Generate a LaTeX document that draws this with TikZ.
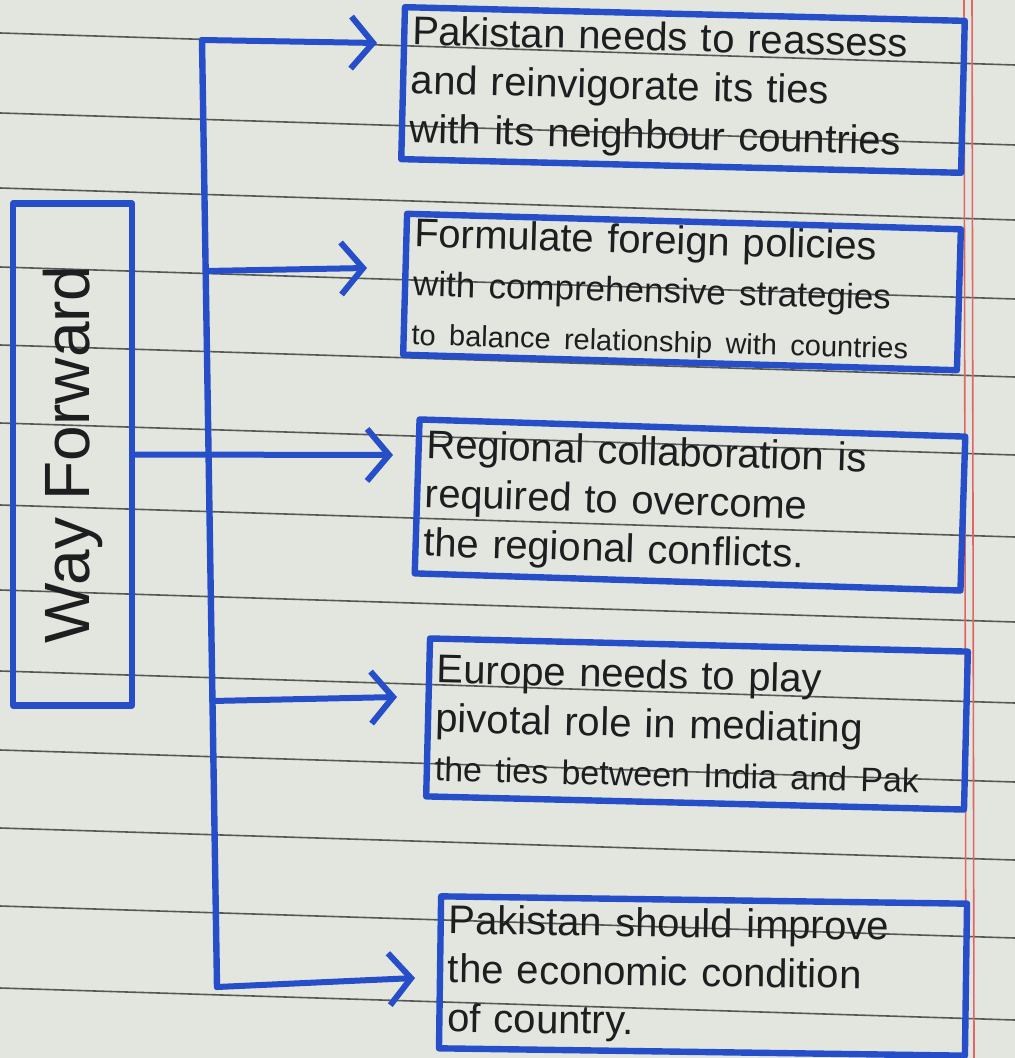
\documentclass[tikz,border=0pt]{standalone}
\usepackage{fontspec}
\setmainfont{Liberation Sans}
\usepackage{graphicx}
\usetikzlibrary{arrows.meta}
\definecolor{paper}{RGB}{227,230,223}
\definecolor{pen}{RGB}{38,78,200}
\definecolor{rulegrey}{RGB}{85,88,85}
\definecolor{marginred}{RGB}{226,100,100}
\definecolor{ink}{RGB}{30,30,32}
\begin{document}
\begin{tikzpicture}[x=0.5pt,y=-0.5pt,
  penline/.style={draw=pen,line width=3.2pt,line cap=round,line join=round},
  arr/.style={draw=pen,line width=3pt,line cap=round,-{Straight Barb[length=11pt,width=26pt]}},
  notebox/.style={penline,rectangle,inner xsep=4pt,inner ysep=2pt,text=ink,align=left,
    font=\fontsize{20}{24.5}\selectfont},
  ruled/.style={draw=rulegrey,line width=0.8pt},
  margin/.style={draw=marginred,line width=0.8pt},
]
\useasboundingbox[fill=paper] (0,0) rectangle (1015,1058);
% ruled lines of the paper
\foreach \y in {33,113,188,267,345,423,505,590,671,750,828,906,988}
  \draw[ruled] (0,\y) -- (1015,\y+32);
% red margin
\draw[margin] (964,0) -- (966,1058);
\draw[margin] (972,0) -- (974,1058);

% left box
\node[penline,rectangle,minimum width=59.5pt,minimum height=251pt,inner sep=0pt,text=ink,
  font=\fontsize{32}{34}\selectfont] (way) at (72.5,454.5) {\rotatebox{90}{Way Forward}};

% right boxes
\node[notebox,text width=272pt,minimum height=76pt,rotate=-1.4] (b1) at (683,90)
  {Pakistan needs to reassess\\and reinvigorate its ties\\with its neighbour countries};
\node[notebox,text width=269pt,minimum height=70pt,rotate=-1.6] (b2) at (682,292)
  {Formulate foreign policies\\\mbox{\fontsize{17.5}{21}\selectfont with comprehensive strategies}\\\mbox{\fontsize{14.5}{18}\selectfont to balance relationship with countries}};
\node[notebox,text width=265pt,minimum height=77pt,rotate=-1.8] (b3) at (690,505)
  {Regional collaboration is\\required to overcome\\the regional conflicts.};
\node[notebox,text width=261pt,minimum height=79pt,rotate=-1.4] (b4) at (697,724)
  {Europe needs to play\\pivotal role in mediating\\\mbox{\fontsize{17}{21}\selectfont the ties between India and Pak}};
\node[notebox,text width=255pt,minimum height=76pt,rotate=-0.8] (b5) at (703,976)
  {Pakistan should improve\\the economic condition\\of country.};

% trunk and branch points
\coordinate (t1) at (202,40);
\coordinate (t2) at (206,271);
\coordinate (t4) at (212,701);
\coordinate (t5) at (217,987);
% arrow tips
\coordinate (a1) at (377,43);
\coordinate (a2) at (367,268);
\coordinate (a3) at (393,455);
\coordinate (a4) at (397,697);
\coordinate (a5) at (415,978);

\draw[penline] (t1) -- (t5);
\draw[arr] (t1) -- (a1);
\draw[arr] (t2) -- (a2);
\draw[arr] (way.east) -- (a3);
\draw[arr] (t4) -- (a4);
\draw[arr] (t5) -- (a5);
\end{tikzpicture}
\end{document}
